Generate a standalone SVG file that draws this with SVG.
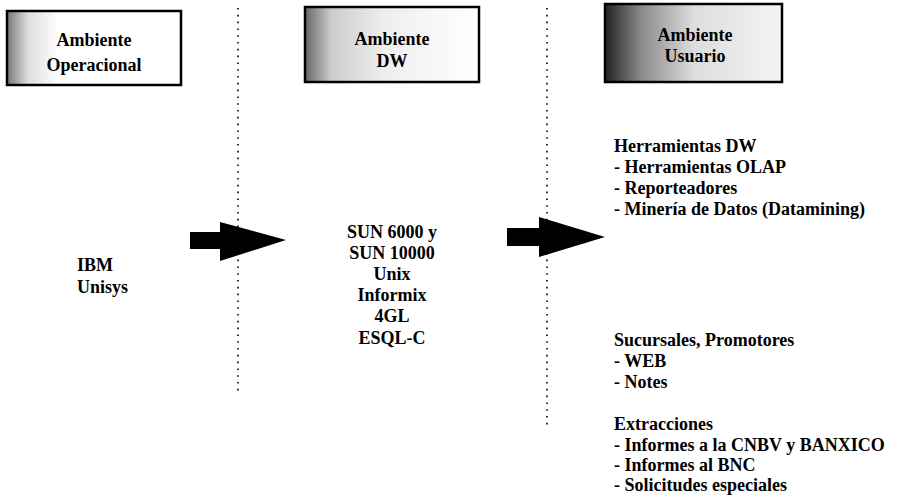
<svg xmlns="http://www.w3.org/2000/svg" width="913" height="495" viewBox="0 0 913 495">
<style>
.t{font-family:"Liberation Serif","Times New Roman",serif;font-weight:bold;font-size:18px;fill:#000}
.c{text-anchor:middle}
.box{stroke:#000;stroke-width:2.5}
.dot{stroke:#000;stroke-width:1.6;stroke-dasharray:1.6 5.2;fill:none}
.arr{fill:#000}
</style>
<defs>
<linearGradient id="g1" x1="0" y1="0" x2="1" y2="0">
<stop offset="0" stop-color="#777"/><stop offset="0.12" stop-color="#ddd"/><stop offset="0.3" stop-color="#fff"/><stop offset="1" stop-color="#fff"/>
</linearGradient>
<linearGradient id="g2" x1="0" y1="0" x2="1" y2="0">
<stop offset="0" stop-color="#666"/><stop offset="0.15" stop-color="#ccc"/><stop offset="0.45" stop-color="#eee"/><stop offset="1" stop-color="#fff"/>
</linearGradient>
<linearGradient id="g3" x1="0" y1="0" x2="1" y2="0">
<stop offset="0" stop-color="#222"/><stop offset="0.2" stop-color="#888"/><stop offset="0.5" stop-color="#ddd"/><stop offset="1" stop-color="#f4f4f4"/>
</linearGradient>
</defs>
<g id="connectors">
<line class="dot" x1="238" y1="8" x2="238" y2="394"/>
<line class="dot" x1="547" y1="8" x2="547" y2="428"/>
<polygon class="arr" points="190,232 220,232 220,222 286,240 220,261 220,249 190,249"/>
<polygon class="arr" points="507,228 539,228 539,217 605,237 539,257 539,246 507,246"/>
</g>
<g id="box-operacional">
<rect class="box" x="7" y="11" width="174" height="74" fill="url(#g1)"/>
<text class="t c" x="94" y="46">Ambiente</text>
<text class="t c" x="94" y="71">Operacional</text>
</g>
<g id="box-dw">
<rect class="box" x="305" y="7" width="174" height="75" fill="url(#g2)"/>
<text class="t c" x="392" y="45">Ambiente</text>
<text class="t c" x="392" y="67">DW</text>
</g>
<g id="box-usuario">
<rect class="box" x="605" y="4" width="177" height="78" fill="url(#g3)"/>
<text class="t c" x="695" y="41">Ambiente</text>
<text class="t c" x="695" y="62">Usuario</text>
</g>
<g id="operacional-list">
<text class="t" x="77" y="271">IBM</text>
<text class="t" x="77" y="293">Unisys</text>
</g>
<g id="dw-list">
<text class="t c" x="392" y="238">SUN 6000 y</text>
<text class="t c" x="392" y="259">SUN 10000</text>
<text class="t c" x="392" y="280">Unix</text>
<text class="t c" x="392" y="301">Informix</text>
<text class="t c" x="392" y="322">4GL</text>
<text class="t c" x="392" y="344">ESQL-C</text>
</g>
<g id="usuario-list">
<text class="t" x="614" y="152">Herramientas DW</text>
<text class="t" x="614" y="173">- Herramientas OLAP</text>
<text class="t" x="614" y="194">- Reporteadores</text>
<text class="t" x="614" y="215">- Minería de Datos (Datamining)</text>
<text class="t" x="614" y="346">Sucursales, Promotores</text>
<text class="t" x="614" y="367">- WEB</text>
<text class="t" x="614" y="388">- Notes</text>
<text class="t" x="614" y="430">Extracciones</text>
<text class="t" x="614" y="451">- Informes a la CNBV y BANXICO</text>
<text class="t" x="614" y="471">- Informes al BNC</text>
<text class="t" x="614" y="491">- Solicitudes especiales</text>
</g>
</svg>
